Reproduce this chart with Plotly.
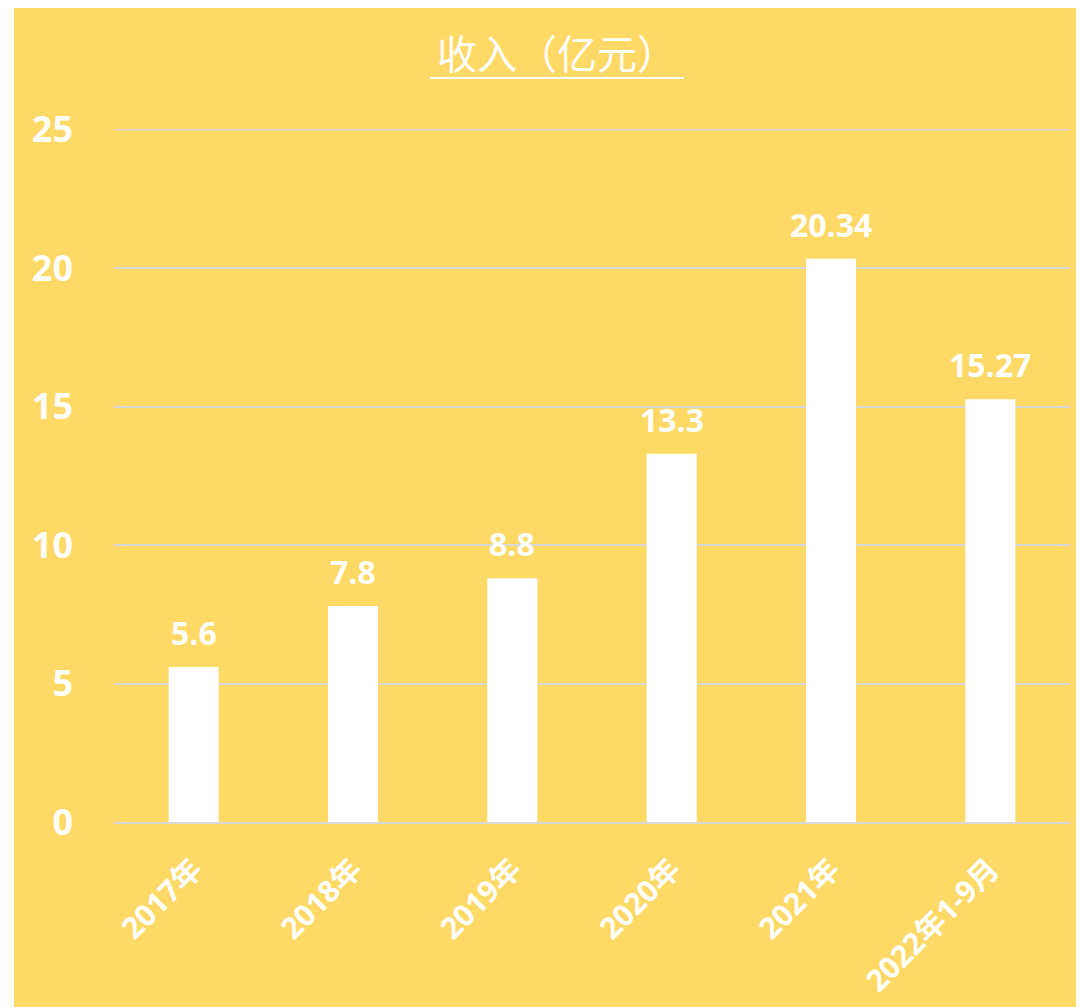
import plotly.graph_objects as go

categories = ["2017年", "2018年", "2019年", "2020年", "2021年", "2022年1-9月"]
values = [5.6, 7.8, 8.8, 13.3, 20.34, 15.27]
value_labels = ["5.6", "7.8", "8.8", "13.3", "20.34", "15.27"]
y_ticks = [0, 5, 10, 15, 20, 25]
title_text = "收入（亿元）"

BG = "#FED966"
GRID = "#D9D9D9"
W, H = 1084, 1007
OFF = 8  # page body margin offset
L, R, T = 114 - OFF, 1084 - (1070 - OFF), 129 - OFF
B = H - (822 - OFF)
pw, ph = W - L - R, H - T - B

def px_x(p):
    return (p - OFF - L) / pw

def px_y(p):
    return (H - B - (p - OFF)) / ph

fig = go.Figure()
fig.add_trace(go.Bar(
    x=categories, y=values,
    marker=dict(color="white", line=dict(width=0)),
    hoverinfo="skip",
))

for c, v, t in zip(categories, values, value_labels):
    fig.add_annotation(
        x=c, y=v, text=t, showarrow=False, yanchor="bottom", yshift=11,
        font=dict(family="Open Sans, Noto Sans CJK SC", size=32, color="white", weight="bold"),
    )

# yellow panel
fig.add_shape(type="rect", xref="paper", yref="paper",
              x0=px_x(14), x1=px_x(W + 20), y0=px_y(H + 20), y1=px_y(8),
              fillcolor=BG, line=dict(width=0), layer="below")
# top gridline at the range edge
fig.add_shape(type="line", xref="paper", yref="y",
              x0=0, x1=1, y0=y_ticks[-1], y1=y_ticks[-1],
              line=dict(color=GRID, width=1.5), layer="below")
# title underline
fig.add_shape(type="line", xref="paper", yref="paper",
              x0=px_x(430), x1=px_x(684), y0=px_y(78), y1=px_y(78),
              line=dict(color="white", width=2))

fig.update_layout(
    width=W, height=H,
    margin=dict(l=L, r=R, t=T, b=B),
    paper_bgcolor="white",
    plot_bgcolor=BG,
    bargap=0.686,
    showlegend=False,
    title=dict(
        text=title_text, x=(557 - OFF) / W, xanchor="center",
        y=1 - (55 - OFF) / H, yanchor="middle", yref="container",
        font=dict(family="Noto Sans CJK SC", size=40, color="white"),
    ),
)
fig.update_yaxes(
    range=[0, 25.03], tickvals=y_ticks,
    showgrid=True, gridcolor=GRID, gridwidth=1.5,
    zeroline=False, showline=False,
    ticklabelstandoff=40,
    tickfont=dict(family="Open Sans, Noto Sans CJK SC", size=36, color="white", weight="bold"),
)
fig.update_xaxes(
    showline=True, linecolor=GRID, linewidth=1.5,
    tickangle=-45, ticklabelstandoff=16,
    tickfont=dict(family="Open Sans, Noto Sans CJK SC", size=30, color="white", weight="bold"),
)

fig.write_html("out.html")
